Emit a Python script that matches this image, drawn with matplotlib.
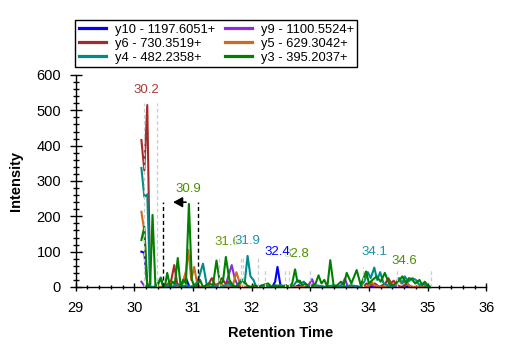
import matplotlib
matplotlib.use("Agg")
import matplotlib.pyplot as plt
from matplotlib.ticker import MultipleLocator

plt.rcParams['font.family'] = ['Liberation Sans', 'DejaVu Sans']

# ---------------- data ----------------
series_names = ["y10 - 1197.6051+", "y9 - 1100.5524+", "y6 - 730.3519+",
                "y5 - 629.3042+", "y4 - 482.2358+", "y3 - 395.2037+"]
series_colors = ["#0000ff", "#8a2be2", "#a52a2a", "#d2691e", "#008b8b", "#008000"]

y3_t = [30.12, 30.17, 30.22, 30.27, 30.31, 30.36, 30.40, 30.45, 30.49, 30.53, 30.56, 30.61,
        30.65, 30.69, 30.74, 30.79, 30.83, 30.88, 30.93, 30.98, 31.03, 31.08, 31.12, 31.17,
        31.22, 31.28, 31.34, 31.40, 31.46, 31.51, 31.56, 31.62, 31.68, 31.74, 31.80, 31.86,
        31.92, 31.98, 32.05, 32.12, 32.18, 32.28, 32.34, 32.40, 32.52, 32.58, 32.64, 32.69,
        32.74, 32.78, 32.82, 32.86, 32.92, 32.98, 33.04, 33.09, 33.14, 33.19, 33.24, 33.29,
        33.34, 33.40, 33.46, 33.52, 33.57, 33.62, 33.70, 33.79, 33.86, 33.95, 34.00, 34.06,
        34.13, 34.20, 34.27, 34.34, 34.40, 34.46, 34.52, 34.57, 34.63, 34.68, 34.73, 34.79,
        34.86, 34.91, 34.95, 35.00, 35.05]
y3_v = [133, 170, 0, 10, 204, 0, 5, 25, 0, 10, 40, 0,
        15, 10, 82, 0, 20, 10, 235, 20, 0, 8, 20, 0,
        5, 10, 5, 75, 10, 15, 85, 20, 5, 0, 12, 20,
        5, 0, 5, 0, 5, 10, 0, 5, 0, 5, 0, 10,
        50, 15, 18, 5, 10, 0, 5, 10, 33, 10, 20, 0,
        76, 0, 5, 15, 5, 40, 10, 48, 5, 44, 10, 20,
        30, 15, 40, 10, 5, 10, 20, 30, 10, 25, 22, 10,
        20, 5, 15, 5, 0]

y4_t = [30.12, 30.17, 30.22, 30.27, 30.35, 30.40, 30.45, 30.50, 30.58, 30.65, 30.70, 30.80,
        30.88, 30.95, 31.02, 31.08, 31.17, 31.23, 31.30, 31.40, 31.50, 31.60, 31.66, 31.73,
        31.78, 31.83, 31.88, 31.93, 31.98, 32.03, 32.08, 32.20, 32.35, 32.50, 32.60, 32.72,
        32.78, 32.83, 32.89, 32.95, 33.10, 33.25, 33.40, 33.55, 33.70, 33.85, 33.92, 33.98,
        34.03, 34.09, 34.14, 34.19, 34.25, 34.32, 34.40, 34.46, 34.52, 34.57, 34.61, 34.67,
        34.74, 34.80, 34.86, 34.92, 35.00, 35.05]
y4_v = [337, 255, 262, 0, 0, 10, 27, 0, 5, 0, 8, 0,
        5, 0, 5, 15, 66, 10, 0, 5, 0, 10, 5, 0,
        10, 22, 10, 88, 30, 20, 0, 5, 0, 5, 0, 5,
        20, 10, 15, 0, 5, 0, 5, 0, 5, 0, 15, 42,
        25, 55, 20, 42, 10, 5, 0, 10, 25, 10, 30, 15,
        25, 20, 5, 10, 0, 0]

y6_t = [30.12, 30.17, 30.22, 30.27, 30.50, 30.58, 30.63, 30.68, 30.73, 30.80, 31.20, 31.27,
        31.32, 31.38, 31.44, 31.49, 31.55, 31.60, 31.65, 31.72, 32.50, 32.58, 32.65, 33.90,
        33.96, 34.02, 34.10, 34.18, 34.28, 34.33, 34.38, 34.42, 34.48, 34.56, 34.64, 34.70,
        35.05]
y6_v = [416, 330, 515, 0, 0, 10, 20, 62, 10, 0, 0, 10,
        25, 5, 10, 25, 10, 15, 5, 0, 0, 5, 0, 0,
        10, 5, 10, 0, 10, 25, 10, 18, 5, 0, 10, 0,
        0]

y5_t = [30.12, 30.17, 30.22, 30.27, 30.55, 30.60, 30.65, 30.70, 30.75, 30.82, 30.88, 30.92,
        30.97, 31.02, 31.07, 31.12, 31.40, 31.48, 31.54, 31.68, 31.74, 31.79, 31.84, 32.40,
        32.50, 32.55, 33.00, 33.05, 33.10, 33.95, 34.00, 34.04, 34.09, 34.20, 34.45, 34.50,
        34.55, 34.62, 34.68, 34.75, 35.05]
y5_v = [213, 158, 5, 0, 0, 10, 15, 5, 0, 10, 45, 105,
        20, 57, 10, 0, 0, 10, 0, 5, 42, 15, 0, 0,
        5, 0, 0, 8, 0, 0, 5, 15, 5, 0, 5, 25,
        10, 18, 5, 0, 0]

y10_t = [30.12, 30.17, 30.22, 30.27, 30.70, 30.80, 30.88, 30.94, 32.35, 32.40, 32.44, 32.49,
         32.54, 32.75, 32.80, 32.85, 35.05]
y10_v = [100, 97, 8, 0, 0, 5, 25, 0, 0, 15, 57, 5,
         0, 0, 5, 0, 0]

y9_t = [30.12, 30.17, 30.22, 30.75, 30.80, 30.85, 31.55, 31.60, 31.66, 31.71, 31.76, 31.82,
        32.95, 33.03, 33.08, 33.50, 33.55, 33.59, 33.64, 34.00, 34.05, 34.10, 34.60, 34.66,
        34.70, 35.05]
y9_v = [15, 3, 0, 0, 8, 0, 0, 30, 62, 25, 5, 0,
        0, 22, 0, 0, 10, 24, 0, 0, 8, 0, 0, 10,
        0, 0]

# peak annotations (retention time, apex intensity, label, colour)
peak_rt = [30.21, 30.92, 31.58, 31.93, 32.76, 32.43, 34.10, 34.61]
peak_int = [515, 235, 84, 88, 50, 57, 55, 30]
peak_lbl = ["30.2", "30.9", "31.6", "31.9", "32.8", "32.4", "34.1", "34.6"]
peak_col = ["#a33a3a", "#4b8f00", "#6a9a00", "#1a95a5", "#4b8f00", "#0000ff", "#1a95a5", "#4b8f00"]

# candidate peak boundaries (gray dashed) and their heights
bound_t = [30.16, 30.38, 31.45, 31.82, 31.85, 32.11, 32.23, 32.56, 32.64, 33.00, 33.90, 34.47, 35.06]
bound_h = [520, 520, 85, 85, 85, 85, 54, 54, 54, 50, 57, 54, 50]

# chosen integration boundaries and predicted RT arrow
chosen_t = [30.49, 31.09]
chosen_h = 240
arrow_t = [30.88, 30.66]

# ---------------- plot ----------------
W, H = 507, 351
fig = plt.figure(figsize=(W / 100, H / 100), dpi=100)
ax = fig.add_axes([75.7 / W, 1 - 287 / H, (486.3 - 75.7) / W, (287 - 75) / H])

data = {
    "y3": (y3_t, y3_v), "y4": (y4_t, y4_v), "y5": (y5_t, y5_v),
    "y6": (y6_t, y6_v), "y9": (y9_t, y9_v), "y10": (y10_t, y10_v),
}
name_of = {"y10": 0, "y9": 1, "y6": 2, "y5": 3, "y4": 4, "y3": 5}
handles = {}
for key in ["y3", "y4", "y5", "y6", "y9", "y10"]:
    i = name_of[key]
    t, v = data[key]
    ln, = ax.plot(t, v, color=series_colors[i], lw=1.5, clip_on=False,
                  label=series_names[i], zorder=2 + i * 0.01)
    handles[key] = ln

for bt, bh in zip(bound_t, bound_h):
    ax.plot([bt, bt], [0, bh], color="#cccccc", lw=0.9, ls=(0, (3, 2)), zorder=3)

for ct in chosen_t:
    ax.plot([ct, ct], [0, chosen_h], color="black", lw=1.0, ls=(0, (3, 2)), zorder=3)
ax.annotate("", xy=(arrow_t[1], chosen_h), xytext=(arrow_t[0], chosen_h),
            arrowprops=dict(arrowstyle="-|>,head_length=0.55,head_width=0.3",
                            color="black", lw=1.2, shrinkA=0, shrinkB=0), zorder=4)

for rt, it, lb, col in zip(peak_rt, peak_int, peak_lbl, peak_col):
    ax.annotate(lb, xy=(rt, it), xytext=(0, 11), textcoords="offset points",
                ha="center", va="center", fontsize=9.5, color=col, zorder=5,
                bbox=dict(boxstyle="square,pad=0.0", fc="white", ec="none", alpha=0.75))

ax.set_xlim(29, 36)
ax.set_ylim(0, 600)
ax.xaxis.set_major_locator(MultipleLocator(1))
ax.xaxis.set_minor_locator(MultipleLocator(0.2))
ax.yaxis.set_major_locator(MultipleLocator(100))
ax.yaxis.set_minor_locator(MultipleLocator(20))
for s in ["top", "right"]:
    ax.spines[s].set_visible(False)
for s in ["left", "bottom"]:
    ax.spines[s].set_linewidth(1.0)
ax.tick_params(axis="y", which="major", direction="inout", length=9, width=1, labelsize=10.5, pad=6)
ax.tick_params(axis="y", which="minor", direction="inout", length=4.5, width=1)
ax.tick_params(axis="x", which="major", direction="inout", length=6, width=1, labelsize=10.5, pad=7)
ax.tick_params(axis="x", which="minor", direction="inout", length=3, width=1)
ax.set_xlabel("Retention Time", fontsize=10.5, fontweight="bold", labelpad=8)
ax.set_ylabel("Intensity", fontsize=10.5, fontweight="bold", labelpad=10)

order = ["y10", "y6", "y4", "y9", "y5", "y3"]
leg = fig.legend([handles[k] for k in order], [series_names[name_of[k]] for k in order],
                 loc="upper left", bbox_to_anchor=(75 / W, 1 - 20 / H), ncol=2,
                 fontsize=9.3, frameon=True, fancybox=False, framealpha=1,
                 edgecolor="black", borderaxespad=0, borderpad=0.28,
                 handlelength=2.1, handletextpad=0.7, columnspacing=0.75, labelspacing=0.15)
leg.get_frame().set_linewidth(1.0)
for lh in leg.get_lines():
    lh.set_linewidth(2.3)

fig.savefig("out.png", dpi=100)
